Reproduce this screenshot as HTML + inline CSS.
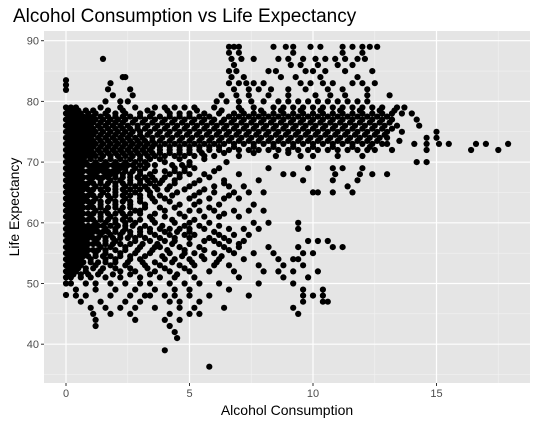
<!DOCTYPE html>
<html><head><meta charset="utf-8"><style>
html,body{margin:0;padding:0;background:#fff;}
svg{display:block;font-family:"Liberation Sans",Arial,sans-serif;}
</style></head><body>
<svg id="chart" width="538" height="425" viewBox="0 0 538 425" xmlns="http://www.w3.org/2000/svg">
<text x="13" y="22" font-size="19" fill="#000">Alcohol Consumption vs Life Expectancy</text>
<rect x="44" y="31" width="486" height="352" fill="#e5e5e5"/>
<g id="grid"></g>
<g id="pts"></g>
<g id="axes"></g>
<text x="287" y="415" font-size="14" text-anchor="middle" fill="#000">Alcohol Consumption</text>
<text transform="translate(19,207) rotate(-90)" font-size="14" text-anchor="middle" fill="#000">Life Expectancy</text>
</svg>
<script>
const xTicks = [0, 5, 10, 15];
const yTicks = [40, 50, 60, 70, 80, 90];
const xMinor = [2.5, 7.5, 12.5, 17.5];
const yMinor = [35, 45, 55, 65, 75, 85];
const lifeExpRows = [89,88,87,86,85,84,83,82,81,80,79,78,77,76,75,74,73,72,71,70,69,68,67,66,65,64,63,62,61,60,59,58,57,56,55,54,53,52,51,50,49,48,47,46,45,44,43,42,41,39,36.3,83.5,82.7,81.9,48.1,
78.5,77.5,76.5,75.5,74.5,73.5,72.5,71.5,70.5,69.5,68.5,67.5,66.5,65.5,64.5,63.5,62.5,61.5,60.5,59.5,58.5,57.5,56.5,55.5,54.5,53.5,52.5,51.5,50.5];
const alcoholRows = [
[6.6,6.8,7.0,8.4,8.9,9.2,9.9,10.3,11.2,11.6,12.0,12.3,12.6],
[6.6,7.0,9.2,11.2,12.0],
[1.5,6.7,7.1,7.6,8.6,9.0,9.6,10.1,10.5,10.9,11.3,11.8,12.1],
[6.8,9.1,9.5,10.2,11.0,11.6],
[6.6,6.9,8.2,8.5,9.7,10.0,10.5,11.3,12.4],
[2.3,2.4,6.7,7.2,8.7,9.3,10.3,11.8],
[1.8,6.6,7.0,7.3,7.6,8.0,9.5,9.9,10.4,10.8,11.6,12.0,12.5],
[1.7,2.6,6.8,7.4,7.8,8.3,9.0,9.7,10.6,11.2,12.2],
[1.9,2.7,6.3,6.9,7.4,8.2,9.0,10.1,10.7,11.3,12.2,13.1],
[1.6,2.2,2.5,6.1,6.5,7.0,7.5,8.0,8.6,9.0,9.4,9.8,10.2,10.6,11.0,11.4,11.8,12.2],
[0,0.2,0.4,1.4,2.2,2.8,3.6,4.0,4.4,4.8,5.2,6.0,7.0,7.6,8.4,8.8,9.2,9.6,10.0,10.4,10.8,11.2,11.6,12.0,12.4,12.8,13.4,13.7],
[0,0.2,0.4,0.6,0.9,1.2,1.6,2.0,2.4,3.0,3.5,4.2,4.6,5.0,5.6,6.2,6.8,7.2,7.6,8.0,8.4,8.8,9.2,9.6,10.0,10.4,10.8,11.2,11.6,12.0,12.4,12.8,13.2,13.6,14.0],
[0,0.2,0.4,0.6,0.8,1.0,1.2,1.5,1.8,2.1,2.4,2.8,3.2,3.6,4.0,4.4,4.8,5.2,5.6,6.0,6.4,6.8,7.2,7.6,8.0,8.4,8.8,9.2,9.6,10.0,10.4,10.8,11.2,11.6,12.0,12.4,12.8,13.2,14.2],
[0,0.2,0.4,0.6,0.8,1.0,1.3,1.6,1.9,2.2,2.5,2.9,3.3,3.7,4.1,4.5,4.9,5.3,5.7,6.1,6.5,6.9,7.3,7.7,8.1,8.5,8.9,9.3,9.7,10.1,10.5,10.9,11.3,11.7,12.1,12.5,12.9,13.4,14.3],
[0,0.2,0.4,0.6,0.8,1.0,1.2,1.5,1.8,2.1,2.4,2.7,3.0,3.4,3.8,4.2,4.6,5.0,5.4,5.8,6.2,6.6,7.0,7.4,7.8,8.2,8.6,9.0,9.4,9.8,10.2,10.6,11.0,11.4,11.8,12.2,12.6,13.0,13.6,15.0],
[0,0.2,0.4,0.6,0.8,1.0,1.3,1.6,1.9,2.2,2.5,2.8,3.1,3.5,3.9,4.3,4.7,5.1,5.5,5.9,6.3,6.7,7.1,7.5,7.9,8.3,8.7,9.1,9.5,9.9,10.3,10.7,11.1,11.5,11.9,12.3,12.7,13.0,14.6,15.0],
[0,0.2,0.4,0.6,0.8,1.0,1.2,1.5,1.8,2.1,2.4,2.7,3.0,3.3,3.6,4.0,4.4,4.8,5.2,5.6,6.0,6.4,6.8,7.2,7.6,8.0,8.4,8.8,9.2,9.6,10.0,10.4,10.8,11.2,11.6,12.0,12.4,12.8,13.0,14.1,14.6,15.1,15.5,16.6,17.0,17.9],
[0,0.2,0.4,0.6,0.8,1.0,1.3,1.6,1.9,2.2,2.5,2.8,3.1,3.4,3.8,4.2,4.6,5.0,5.4,5.8,6.2,6.6,7.0,7.4,7.8,8.2,8.6,9.0,9.4,9.8,10.2,10.6,11.0,11.4,11.8,12.2,12.5,13.2,14.6,16.4,17.5],
[0,0.2,0.4,0.6,0.8,1.0,1.2,1.5,1.8,2.1,2.4,2.7,3.0,3.3,3.6,4.0,4.4,4.8,5.2,5.6,6.0,7.0,8.5,9.5,10.0,11.0,12.0],
[0,0.2,0.4,0.6,0.8,1.2,1.6,2.0,2.4,2.8,3.2,4.0,5.0,6.5,14.2,14.6],
[0,0.2,0.4,0.6,1.0,1.2,1.4,1.6,2.0,2.2,2.4,2.8,3.2,4.4,4.8,5.2,6.2,8.2,9.8,10.8,11.2,12.0],
[0,0.2,0.4,0.6,1.0,1.2,1.6,1.8,2.0,2.3,2.6,3.0,3.4,4.2,4.6,5.0,5.6,7.0,8.8,9.2,10.9,11.9,12.4,13.0],
[0,0.2,0.4,0.6,1.0,1.4,1.8,2.2,2.6,3.0,3.3,3.6,3.9,4.4,5.4,6.4,7.8,9.6,10.8,11.8],
[0,0.2,0.4,0.6,0.8,1.2,1.6,2.0,2.4,2.8,3.2,3.6,4.2,5.0,6.0,6.6,7.2,11.4],
[0,0.2,0.4,0.6,1.0,1.5,2.0,2.4,2.8,3.4,4.5,5.4,6.0,6.8,7.4,8.0,10.0,10.2,10.8,11.6],
[0,0.2,0.4,0.6,0.8,1.2,1.8,2.4,3.0,3.5,4.0,5.0,5.8,6.4,7.0],
[0,0.2,0.4,0.6,1.0,1.4,2.0,2.6,3.2,4.6,5.2,6.2,7.6],
[0,0.2,0.4,0.6,1.2,1.6,2.2,2.8,3.0,4.0,5.0,5.4,6.0,6.8,7.4,8.0],
[0,0.2,0.4,0.6,1.0,1.4,1.8,2.4,3.4,4.0,4.8,5.6,6.2,7.0],
[0,0.2,0.4,0.6,1.2,1.6,2.0,2.4,2.8,3.6,4.4,5.0,5.8,7.6,8.2,9.4],
[0,0.2,0.4,0.6,0.8,1.0,1.2,1.6,2.0,2.4,3.0,3.4,3.8,4.2,4.6,5.0,5.6,6.6,7.2,7.8,9.4],
[0,0.2,0.4,0.6,0.8,1.0,1.4,1.8,2.2,2.6,3.0,3.6,4.2,4.8,5.2,6.2,6.8,7.4],
[0,0.2,0.4,0.6,0.8,1.2,1.6,2.0,2.8,3.4,4.0,4.4,5.6,6.0,6.6,7.2,9.8,10.2,10.6],
[0,0.2,0.4,0.6,0.8,1.4,1.8,2.4,3.0,3.6,3.8,4.6,5.4,6.4,7.0,8.2,9.4,10.8,11.2],
[0,0.2,0.4,0.6,0.8,1.2,1.6,2.2,2.8,3.4,4.2,4.8,5.2,6.0,6.8,7.6,8.4,9.6,10.0],
[0,0.2,0.4,0.6,1.0,1.6,2.0,2.6,3.0,4.0,4.4,5.0,5.6,6.2,7.2,8.6,9.2,9.4],
[0,0.2,0.4,0.6,1.2,1.8,2.4,3.2,3.8,4.6,5.2,6.0,6.6,7.8,8.8,9.6],
[0,0.2,0.4,0.8,1.4,2.2,2.8,3.6,4.2,5.0,5.8,6.8,8.0,8.6,9.2,10.2],
[0,0.2,0.6,1.0,1.6,2.2,3.0,3.8,4.4,5.2,7.0,8.8,9.8],
[0,0.2,0.8,1.2,1.8,2.4,3.0,3.4,4.2,4.8,5.4,6.2,7.8,9.2],
[0.4,1.2,2.0,2.8,3.6,4.4,5.0,6.6,9.6,10.4],
[0.4,0.8,1.8,2.6,3.2,3.4,4.0,4.4,5.0,5.8,7.4,9.6,10.0,10.4],
[0.6,1.4,2.4,3.0,4.2,4.6,5.4,9.6,10.4,10.6],
[1.0,1.6,2.2,2.8,3.6,4.6,5.2,6.4,9.2],
[1.1,1.8,2.6,4.2,5.0,5.4,9.4],
[1.2,2.8,4.0,4.6],
[1.2,4.2],
[4.4],
[4.5],
[4.0],
[5.8],
[0],[0],[0],[0],
[0.1,0.3,0.5,0.8,1.1,1.7,2.3,3.3,4.1,5.3,6.3,7.1,7.9,8.7,9.5,10.3,11.1,11.9,12.7,13.3],
[0.1,0.3,0.5,0.7,0.9,1.1,1.4,1.7,2.0,2.3,2.6,3.0,3.4,3.8,4.2,4.6,5.0,5.4,5.8,6.6,7.0,7.4,7.8,8.2,8.6,9.0,9.4,9.8,10.2,10.6,11.0,11.4,11.8,12.2,12.6,13.0],
[0.1,0.3,0.5,0.7,0.9,1.1,1.4,1.7,2.0,2.3,2.7,3.1,3.5,3.9,4.3,4.7,5.1,5.5,5.9,6.3,6.7,7.1,7.5,7.9,8.3,8.7,9.1,9.5,9.9,10.3,10.7,11.1,11.5,11.9,12.3,12.7,13.1],
[0.1,0.3,0.5,0.7,0.9,1.1,1.4,1.7,2.0,2.3,2.6,2.9,3.2,3.6,4.0,4.4,4.8,5.2,5.6,6.0,6.4,6.8,7.2,7.6,8.0,8.4,8.8,9.2,9.6,10.0,10.4,10.8,11.2,11.6,12.0,12.4,12.8,13.2],
[0.1,0.3,0.5,0.7,0.9,1.1,1.4,1.7,2.0,2.3,2.6,3.0,3.3,3.7,4.1,4.5,4.9,5.3,5.7,6.1,6.5,6.9,7.3,7.7,8.1,8.5,8.9,9.3,9.7,10.1,10.5,10.9,11.3,11.7,12.1,12.5,12.9],
[0.1,0.3,0.5,0.7,0.9,1.1,1.4,1.7,2.0,2.3,2.6,2.9,3.2,3.5,3.8,4.2,4.6,5.0,5.4,5.8,6.2,6.6,7.0,7.4,7.8,8.2,8.6,9.0,9.4,9.8,10.2,10.6,11.0,11.4,11.8,12.2,12.6,13.5],
[0.1,0.3,0.5,0.7,0.9,1.1,1.4,1.7,2.0,2.3,2.6,2.9,3.2,3.5,3.8,4.2,4.6,5.0,5.4,5.8,6.2,6.8,7.6,8.4,9.2,10.0,10.8,11.6,12.3],
[0.1,0.3,0.5,0.7,0.9,1.1,1.4,1.7,2.0,2.3,2.6,2.9,3.2,3.5,3.8,4.2,4.6,5.0,5.5,6.4,7.6,9.0],
[0.1,0.3,0.5,0.7,1.0,1.4,1.8,2.2,2.6,3.0,3.4,3.8,4.6,5.6],
[0.1,0.3,0.5,0.7,0.9,1.1,1.3,1.5,1.7,1.9,2.1,2.3,2.5,2.7,3.0,3.3,3.6,4.3,4.7,5.0],
[0.1,0.3,0.5,0.7,0.9,1.1,1.3,1.5,1.7,1.9,2.1,2.4,2.7,3.0,3.6,4.0,4.4,4.8,6.0],
[0.1,0.3,0.5,0.7,0.9,1.1,1.3,1.5,1.7,2.0,2.3,2.6,2.9,3.2,3.5,4.0,4.6,5.8],
[0.1,0.3,0.5,0.7,0.9,1.1,1.4,1.7,2.0,2.3,2.6,3.0,3.4,3.8,4.4,5.2,6.4],
[0.1,0.3,0.5,0.7,0.9,1.1,1.4,1.7,2.0,2.3,2.6,3.0,3.3,3.7,4.1,4.8,5.6],
[0.1,0.3,0.5,0.7,0.9,1.1,1.4,1.7,2.0,2.3,2.6,3.0,3.4,3.8,4.3,5.2,6.6],
[0.1,0.3,0.5,0.7,0.9,1.1,1.4,1.7,2.0,2.3,2.6,3.0,3.6,4.2,5.4],
[0.1,0.3,0.5,0.7,0.9,1.1,1.4,1.7,2.0,2.3,2.6,3.2,3.8,4.4,5.8],
[0.1,0.3,0.5,0.7,0.9,1.1,1.4,1.7,2.0,2.3,2.6,3.0,3.6,4.6,6.4],
[0.1,0.3,0.5,0.7,0.9,1.1,1.4,1.7,2.0,2.3,2.6,3.0,3.5,4.3,5.2],
[0.1,0.3,0.5,0.7,0.9,1.1,1.3,1.5,1.8,2.1,2.4,2.7,3.2,3.9,4.8,5.4,6.2],
[0.1,0.3,0.5,0.7,0.9,1.1,1.3,1.5,1.7,2.0,2.3,2.6,3.0,3.4,4.0,4.5,5.0,6.0],
[0.1,0.3,0.5,0.7,0.9,1.1,1.3,1.6,1.9,2.2,2.5,2.8,3.2,3.8,4.4,5.0,5.8,6.4],
[0.1,0.3,0.5,0.7,0.9,1.1,1.3,1.6,1.9,2.2,2.6,3.1,3.7,4.3,5.0,6.2,7.0],
[0.1,0.3,0.5,0.7,0.9,1.1,1.3,1.6,2.0,2.4,2.9,3.5,4.1,4.8,5.6,6.6],
[0.1,0.3,0.5,0.7,0.9,1.2,1.5,1.8,2.2,2.6,3.2,3.9,4.7,5.5,6.3],
[0.1,0.3,0.5,0.7,1.0,1.3,1.6,2.0,2.5,3.1,3.6,4.3,5.1,6.1],
[0.1,0.3,0.5,0.8,1.1,1.5,2.0,2.6,3.3,4.0,4.8],
[0.1,0.3,0.6,0.9,1.3,1.9,2.6,3.4,4.5]
];

const svgNS = "http://www.w3.org/2000/svg";
const PX0 = 66, PXU = 24.7, PY0 = 40.7, PYU = 6.07;
function sx(v){ return PX0 + v * PXU; }
function sy(v){ return PY0 + (90 - v) * PYU; }
const L = 44, R = 530, T = 31, B = 383;

const grid = document.getElementById('grid');
function line(g, x1, y1, x2, y2, stroke, w, name){
  const l = document.createElementNS(svgNS, 'line');
  l.setAttribute('x1', x1); l.setAttribute('y1', y1);
  l.setAttribute('x2', x2); l.setAttribute('y2', y2);
  l.setAttribute('stroke', stroke); l.setAttribute('stroke-width', w);
  
  
  g.appendChild(l);
}
xMinor.forEach(v => line(grid, sx(v), T, sx(v), B, '#f2f2f2', 0.6, 'x-minor-gridline'));
yMinor.forEach(v => line(grid, L, sy(v), R, sy(v), '#f2f2f2', 0.6, 'y-minor-gridline'));
xTicks.forEach(v => line(grid, sx(v), T, sx(v), B, '#ffffff', 1.2, 'x-major-gridline'));
yTicks.forEach(v => line(grid, L, sy(v), R, sy(v), '#ffffff', 1.2, 'y-major-gridline'));

const pts = document.getElementById('pts');
lifeExpRows.forEach((y, i) => {
  (alcoholRows[i] || []).forEach(x => {
    const c = document.createElementNS(svgNS, 'circle');
    c.setAttribute('cx', sx(x).toFixed(1));
    c.setAttribute('cy', sy(y).toFixed(1));
    c.setAttribute('r', 3.1);
    c.setAttribute('fill', '#000');
    
    
    pts.appendChild(c);
  });
});

const axes = document.getElementById('axes');
xTicks.forEach(v => {
  line(axes, sx(v), B, sx(v), B + 3, '#333', 1, 'x-tick');
  const t = document.createElementNS(svgNS, 'text');
  t.setAttribute('x', sx(v)); t.setAttribute('y', B + 14);
  t.setAttribute('text-anchor', 'middle'); t.setAttribute('font-size', '11');
  t.setAttribute('fill', '#4d4d4d');
  
  
  t.textContent = v; axes.appendChild(t);
});
yTicks.forEach(v => {
  line(axes, L - 3, sy(v), L, sy(v), '#333', 1, 'y-tick');
  const t = document.createElementNS(svgNS, 'text');
  t.setAttribute('x', L - 5); t.setAttribute('y', sy(v) + 4);
  t.setAttribute('text-anchor', 'end'); t.setAttribute('font-size', '11');
  t.setAttribute('fill', '#4d4d4d');
  
  
  t.textContent = v; axes.appendChild(t);
});
</script>
</body></html>
